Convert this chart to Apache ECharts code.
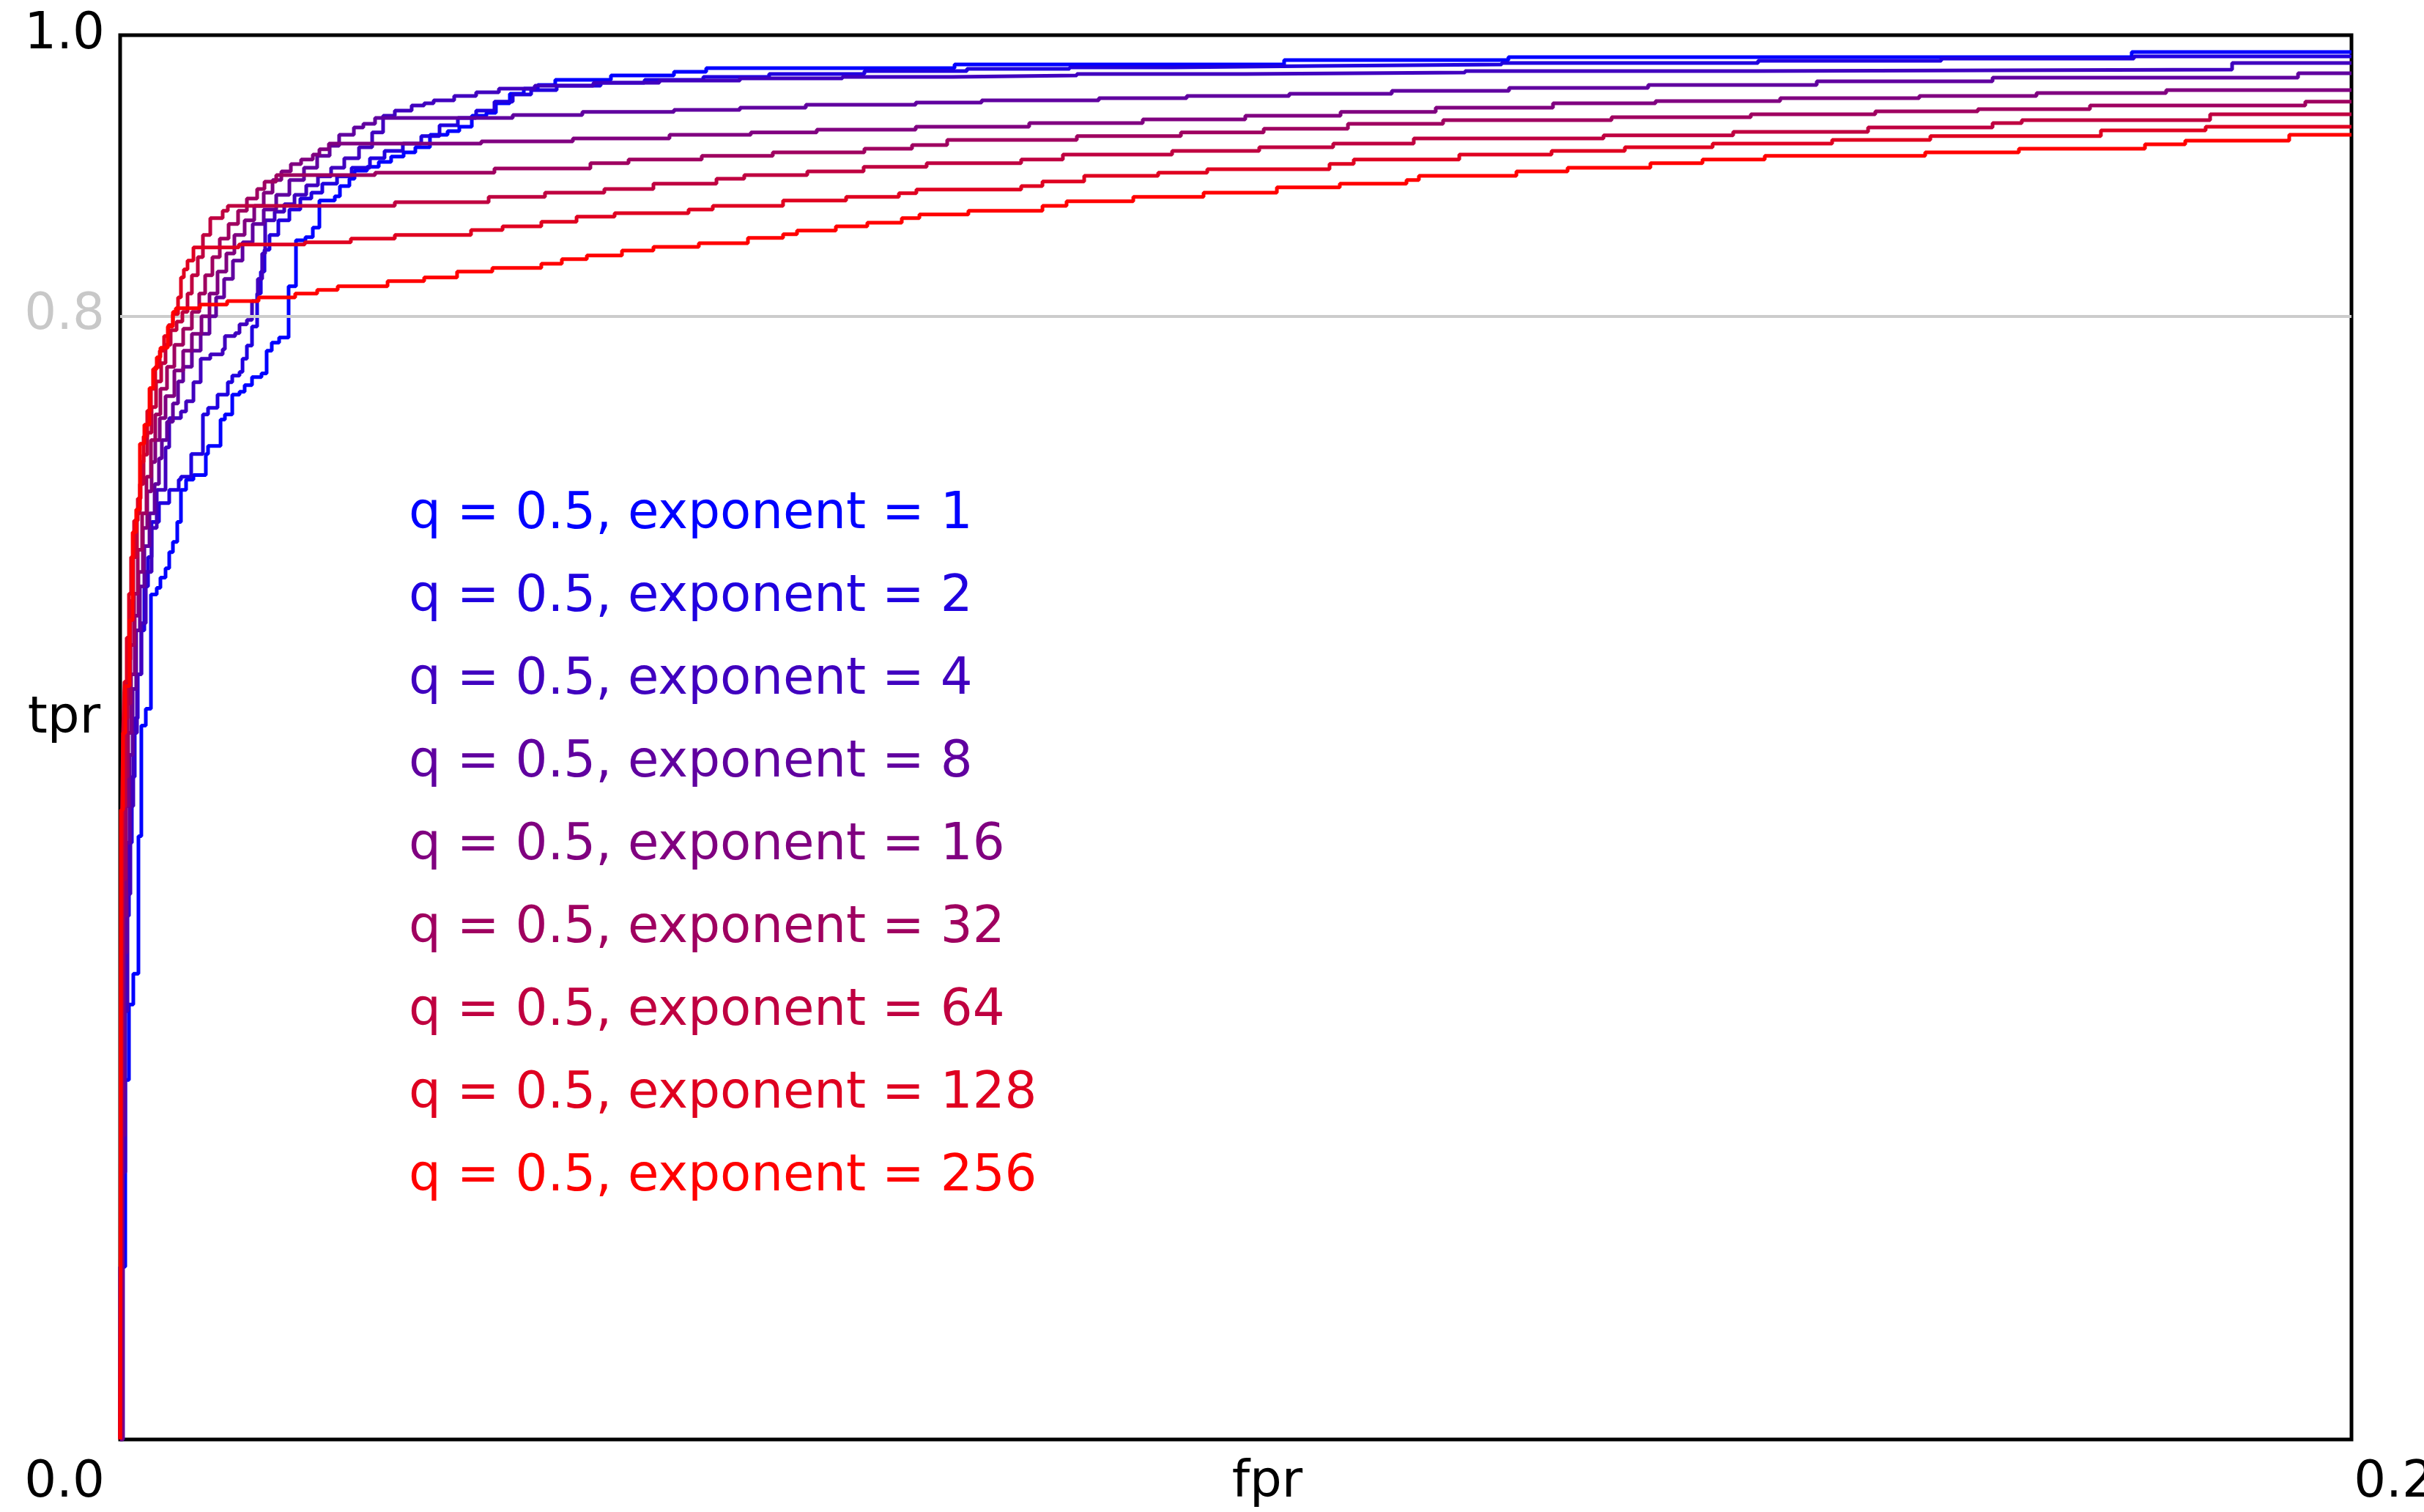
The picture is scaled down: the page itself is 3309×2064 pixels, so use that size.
<!DOCTYPE html>
<html>
<head>
<meta charset="utf-8">
<script src="https://cdn.jsdelivr.net/npm/echarts@6/dist/echarts.min.js"></script>
<style>
html,body{margin:0;padding:0;background:#fff;}
#chart{width:3309px;height:2064px;}
</style>
</head>
<body>
<div id="chart"></div>
<script>
// ROC curves, points are [fpr, tpr] at the top of each vertical step
const exponents = [1, 2, 4, 8, 16, 32, 64, 128, 256];
const qValue = '0.5';
const xTickLabels = ['0.0', '0.2'];
const yTickLabels = ['1.0', '0.8'];
const xAxisName = 'fpr';
const yAxisName = 'tpr';
const lineColors = ['#0000ff', '#2000df', '#4000bf', '#60009f', '#800080', '#9f0060', '#bf0040', '#df0020', '#ff0000'];

const curveExp1 = [[0,0],[0,0.1230],[0.00046,0.2560],[0.00079,0.3097],[0.00118,0.3316],[0.00164,0.4296],[0.00190,0.5083],[0.00230,0.5203],[0.00276,0.6017],[0.00328,0.6064],[0.00361,0.6137],[0.00407,0.6204],[0.00440,0.6319],[0.00473,0.6392],[0.00512,0.6533],[0.00545,0.6762],[0.00591,0.6835],[0.00657,0.6867],[0.00768,0.7018],[0.00788,0.7075],[0.00900,0.7263],[0.00939,0.7299],[0.01005,0.7440],[0.01070,0.7461],[0.01116,0.7508],[0.01182,0.7565],[0.01267,0.7591],[0.01313,0.7753],[0.01359,0.7810],[0.01425,0.7847],[0.01510,0.8212],[0.01576,0.8540],[0.01661,0.8561],[0.01727,0.8629],[0.01786,0.8822],[0.01924,0.8853],[0.01970,0.8926],[0.02055,0.8978],[0.02101,0.9035],[0.02213,0.9062],[0.02318,0.9098],[0.02429,0.9135],[0.02541,0.9166],[0.02646,0.9202],[0.02777,0.9291],[0.02935,0.9317],[0.03040,0.9348],[0.03152,0.9426],[0.03283,0.9447],[0.03368,0.9515],[0.03493,0.9583],[0.03618,0.9619],[0.03743,0.9645],[0.03900,0.9682],[0.04399,0.9713],[0.04964,0.9739],[0.05253,0.9765],[0.07479,0.9791],[0.10433,0.9823],[0.12443,0.9844],[0.18030,0.9880],[0.2,0.9880]];

const curveExp2 = [[0,0],[0.00013,0.1382],[0.00026,0.2424],[0.00039,0.3102],[0.00059,0.3728],[0.00079,0.4249],[0.00105,0.4718],[0.00131,0.5136],[0.00158,0.5448],[0.00190,0.5761],[0.00217,0.6074],[0.00250,0.6283],[0.00282,0.6533],[0.00348,0.6668],[0.00440,0.6762],[0.00525,0.6835],[0.00545,0.6856],[0.00637,0.7018],[0.00742,0.7299],[0.00788,0.7346],[0.00873,0.7440],[0.00965,0.7529],[0.01005,0.7576],[0.01070,0.7602],[0.01097,0.7696],[0.01136,0.7789],[0.01182,0.7925],[0.01228,0.8160],[0.01261,0.8316],[0.01294,0.8472],[0.01339,0.8577],[0.01418,0.8681],[0.01517,0.8759],[0.01615,0.8837],[0.01714,0.8879],[0.01812,0.8942],[0.01944,0.8994],[0.02075,0.9056],[0.02239,0.9124],[0.02370,0.9176],[0.02534,0.9228],[0.02699,0.9281],[0.02863,0.9359],[0.03027,0.9411],[0.03191,0.9463],[0.03355,0.9526],[0.03519,0.9578],[0.03684,0.9609],[0.03913,0.9640],[0.04307,0.9661],[0.04701,0.9682],[0.05227,0.9703],[0.05817,0.9724],[0.06671,0.9745],[0.07590,0.9760],[0.08510,0.9771],[0.09429,0.9781],[0.10742,0.9791],[0.12383,0.9802],[0.14681,0.9818],[0.16323,0.9833],[0.18050,0.9849],[0.2,0.9849]];

const curveExp4 = [[0,0],[0.00026,0.1903],[0.00046,0.3050],[0.00066,0.3884],[0.00092,0.4510],[0.00118,0.5031],[0.00151,0.5448],[0.00190,0.5813],[0.00230,0.6178],[0.00282,0.6491],[0.00328,0.6762],[0.00407,0.7065],[0.00440,0.7273],[0.00545,0.7320],[0.00591,0.7393],[0.00657,0.7529],[0.00722,0.7696],[0.00808,0.7727],[0.00919,0.7763],[0.00939,0.7857],[0.01031,0.7878],[0.01070,0.7941],[0.01136,0.7972],[0.01182,0.8107],[0.01234,0.8264],[0.01273,0.8446],[0.01300,0.8681],[0.01385,0.8743],[0.01471,0.8796],[0.01563,0.8863],[0.01668,0.8931],[0.01773,0.8994],[0.01891,0.9056],[0.02009,0.9124],[0.02141,0.9202],[0.02259,0.9307],[0.02357,0.9426],[0.02462,0.9463],[0.02613,0.9499],[0.02725,0.9515],[0.02810,0.9536],[0.02994,0.9567],[0.03191,0.9593],[0.03395,0.9619],[0.03716,0.9640],[0.04242,0.9661],[0.04833,0.9677],[0.05555,0.9692],[0.06474,0.9703],[0.07459,0.9713],[0.08575,0.9724],[0.10085,0.9734],[0.12055,0.9745],[0.14681,0.9755],[0.18930,0.9802],[0.2,0.9802]];

const curveExp8 = [[0,0],[0.00020,0.2164],[0.00039,0.3467],[0.00059,0.4249],[0.00085,0.4875],[0.00112,0.5344],[0.00144,0.5761],[0.00177,0.6074],[0.00217,0.6361],[0.00263,0.6595],[0.00309,0.6804],[0.00348,0.6986],[0.00374,0.7117],[0.00420,0.7247],[0.00473,0.7377],[0.00519,0.7534],[0.00565,0.7638],[0.00643,0.7753],[0.00722,0.7873],[0.00801,0.7998],[0.00860,0.8133],[0.00932,0.8264],[0.01011,0.8394],[0.01097,0.8525],[0.01188,0.8655],[0.01287,0.8759],[0.01399,0.8863],[0.01517,0.8968],[0.01648,0.9056],[0.01766,0.9140],[0.01878,0.9212],[0.01963,0.9291],[0.02095,0.9343],[0.02180,0.9369],[0.02285,0.9411],[0.03519,0.9432],[0.04143,0.9453],[0.04964,0.9468],[0.05555,0.9484],[0.06146,0.9505],[0.07131,0.9520],[0.07722,0.9536],[0.08772,0.9552],[0.09560,0.9567],[0.10479,0.9583],[0.11398,0.9604],[0.12449,0.9625],[0.13696,0.9645],[0.15207,0.9671],[0.16783,0.9698],[0.19521,0.9729],[0.2,0.9729]];

const curveExp16 = [[0,0],[0.00020,0.2424],[0.00033,0.3728],[0.00053,0.4510],[0.00072,0.5031],[0.00098,0.5448],[0.00131,0.5866],[0.00164,0.6178],[0.00204,0.6491],[0.00243,0.6752],[0.00282,0.6960],[0.00315,0.7117],[0.00355,0.7273],[0.00407,0.7430],[0.00486,0.7612],[0.00565,0.7753],[0.00643,0.7873],[0.00729,0.7998],[0.00801,0.8160],[0.00873,0.8316],[0.00952,0.8446],[0.01024,0.8577],[0.01116,0.8681],[0.01202,0.8785],[0.01287,0.8879],[0.01366,0.8968],[0.01445,0.9030],[0.01530,0.9082],[0.01622,0.9114],[0.01727,0.9150],[0.01786,0.9187],[0.01871,0.9228],[0.03237,0.9244],[0.04058,0.9265],[0.04924,0.9291],[0.05653,0.9307],[0.06244,0.9327],[0.07131,0.9348],[0.08148,0.9374],[0.09166,0.9400],[0.10085,0.9426],[0.10939,0.9453],[0.11792,0.9484],[0.12843,0.9515],[0.13762,0.9531],[0.14879,0.9552],[0.16126,0.9567],[0.17177,0.9588],[0.18339,0.9609],[0.2,0.9609]];

const curveExp32 = [[0,0],[0.00013,0.2685],[0.00026,0.3989],[0.00046,0.4718],[0.00066,0.5240],[0.00092,0.5657],[0.00125,0.6022],[0.00158,0.6335],[0.00197,0.6595],[0.00236,0.6856],[0.00276,0.7117],[0.00315,0.7299],[0.00361,0.7482],[0.00420,0.7638],[0.00486,0.7795],[0.00565,0.7909],[0.00643,0.8029],[0.00709,0.8160],[0.00762,0.8290],[0.00827,0.8420],[0.00893,0.8551],[0.00972,0.8655],[0.01057,0.8749],[0.01136,0.8837],[0.01228,0.8905],[0.01294,0.8957],[0.01399,0.9004],[0.02285,0.9020],[0.03355,0.9051],[0.04215,0.9088],[0.04557,0.9114],[0.05213,0.9140],[0.05850,0.9166],[0.06671,0.9192],[0.07098,0.9218],[0.07413,0.9254],[0.08575,0.9281],[0.09508,0.9307],[0.10250,0.9333],[0.11005,0.9369],[0.11858,0.9395],[0.13368,0.9416],[0.14616,0.9437],[0.15732,0.9458],[0.16651,0.9473],[0.17656,0.9499],[0.19586,0.9526],[0.2,0.9526]];

const curveExp64 = [[0,0],[0.00013,0.3467],[0.00026,0.4510],[0.00046,0.5136],[0.00066,0.5553],[0.00092,0.5970],[0.00118,0.6283],[0.00151,0.6595],[0.00177,0.6804],[0.00210,0.7012],[0.00243,0.7169],[0.00282,0.7351],[0.00322,0.7534],[0.00368,0.7664],[0.00407,0.7795],[0.00453,0.7899],[0.00506,0.7961],[0.00558,0.8029],[0.00604,0.8160],[0.00643,0.8290],[0.00696,0.8420],[0.00742,0.8577],[0.00808,0.8697],[0.00919,0.8749],[0.00965,0.8785],[0.02462,0.8811],[0.03303,0.8848],[0.03808,0.8879],[0.04340,0.8905],[0.04780,0.8942],[0.05345,0.8978],[0.05594,0.9004],[0.06159,0.9030],[0.06664,0.9062],[0.07229,0.9088],[0.08076,0.9114],[0.08450,0.9150],[0.09429,0.9176],[0.10210,0.9202],[0.10873,0.9228],[0.11595,0.9265],[0.13296,0.9286],[0.14458,0.9312],[0.15667,0.9343],[0.16783,0.9374],[0.17045,0.9395],[0.18733,0.9437],[0.2,0.9437]];

const curveExp128 = [[0,0],[0.00007,0.2946],[0.00013,0.4249],[0.00026,0.5031],[0.00039,0.5396],[0.00059,0.5709],[0.00079,0.6022],[0.00098,0.6283],[0.00125,0.6543],[0.00158,0.6700],[0.00184,0.6960],[0.00210,0.7143],[0.00243,0.7325],[0.00276,0.7482],[0.00315,0.7638],[0.00355,0.7753],[0.00394,0.7857],[0.00433,0.7935],[0.00473,0.8014],[0.00519,0.8133],[0.00545,0.8274],[0.00571,0.8332],[0.00604,0.8394],[0.00657,0.8488],[0.01064,0.8509],[0.01655,0.8525],[0.02068,0.8551],[0.02462,0.8577],[0.03145,0.8613],[0.03428,0.8639],[0.03775,0.8671],[0.04091,0.8707],[0.04432,0.8733],[0.05095,0.8759],[0.05312,0.8785],[0.05942,0.8822],[0.06507,0.8848],[0.06980,0.8874],[0.07137,0.8900],[0.08076,0.8926],[0.08267,0.8958],[0.08641,0.8999],[0.09304,0.9020],[0.09744,0.9046],[0.10840,0.9083],[0.11057,0.9114],[0.12003,0.9150],[0.12830,0.9176],[0.13487,0.9202],[0.14274,0.9228],[0.15345,0.9254],[0.16225,0.9281],[0.17754,0.9322],[0.18693,0.9348],[0.2,0.9348]];

const curveExp256 = [[0,0],[0.00007,0.4484],[0.00026,0.5031],[0.00046,0.5365],[0.00085,0.5834],[0.00112,0.6460],[0.00144,0.6622],[0.00177,0.7091],[0.00217,0.7226],[0.00263,0.7487],[0.00295,0.7622],[0.00328,0.7706],[0.00361,0.7774],[0.00427,0.7925],[0.00473,0.8029],[0.00499,0.8055],[0.00716,0.8081],[0.00959,0.8107],[0.01241,0.8133],[0.01569,0.8160],[0.01766,0.8186],[0.01950,0.8212],[0.02397,0.8248],[0.02725,0.8274],[0.03020,0.8316],[0.03336,0.8342],[0.03775,0.8373],[0.03959,0.8405],[0.04183,0.8431],[0.04498,0.8467],[0.04780,0.8493],[0.05187,0.8519],[0.05627,0.8556],[0.05942,0.8582],[0.06067,0.8608],[0.06415,0.8639],[0.06697,0.8665],[0.07006,0.8697],[0.07164,0.8723],[0.07603,0.8749],[0.08267,0.8785],[0.08483,0.8817],[0.09081,0.8848],[0.09711,0.8879],[0.10368,0.8916],[0.10932,0.8942],[0.11530,0.8968],[0.11641,0.8999],[0.12515,0.9030],[0.12974,0.9056],[0.13716,0.9088],[0.14183,0.9114],[0.14741,0.9140],[0.16179,0.9166],[0.17019,0.9192],[0.18149,0.9223],[0.18510,0.9249],[0.19442,0.9291],[0.2,0.9291]];

const curves = [curveExp1, curveExp2, curveExp4, curveExp8, curveExp16, curveExp32, curveExp64, curveExp128, curveExp256];
const refLineTpr = 0.8;

const FONT = 'DejaVu Sans';
const FS = 69;
const names = exponents.map(e => 'q = ' + qValue + ', exponent = ' + e);

const series = [{
  type: 'line', name: '_ref', data: [], silent: true, z: 1,
  markLine: {
    silent: true, symbol: 'none', animation: false,
    label: { show: false },
    lineStyle: { color: '#cccccc', width: 4, type: 'solid' },
    data: [{ yAxis: refLineTpr }]
  }
}];
curves.forEach((c, i) => {
  series.push({
    type: 'line', name: names[i], data: c, step: 'end',
    symbol: 'none', showSymbol: false, animation: false, z: 2 + i,
    lineStyle: { width: 5, color: lineColors[i] },
    itemStyle: { color: lineColors[i] }
  });
});

const chart = echarts.init(document.getElementById('chart'), null, { renderer: 'canvas' });
chart.setOption({
  animation: false,
  backgroundColor: '#ffffff',
  grid: { left: 164, top: 48, width: 3046, height: 1917, containLabel: false, outerBoundsMode: 'none',
          show: true, borderColor: '#000', borderWidth: 5, backgroundColor: 'transparent' },
  legend: {
    orient: 'vertical', left: 548, top: 658, icon: 'none', itemWidth: 0, itemHeight: 80, itemGap: 33,
    selectedMode: false,
    textStyle: { fontFamily: FONT, fontSize: FS, lineHeight: 80 },
    data: names.map((n, i) => ({ name: n, textStyle: { color: lineColors[i] } }))
  },
  xAxis: {
    type: 'value', min: 0, max: 0.2, interval: 0.2,
    name: xAxisName, nameLocation: 'middle', nameGap: 26, nameMoveOverlap: false,
    nameTextStyle: { fontFamily: FONT, fontSize: FS, color: '#000', lineHeight: 69, padding: [0, 0, 0, 86] },
    axisLine: { show: false }, axisTick: { show: false }, splitLine: { show: false },
    axisLabel: {
      margin: 26, fontFamily: FONT, fontSize: FS, color: '#000', lineHeight: 69,
      formatter: v => (v < 0.1 ? '{a|' + xTickLabels[0] + '}' : '{b|' + xTickLabels[1] + '}'),
      rich: {
        a: { fontFamily: FONT, fontSize: FS, color: '#000', padding: [0, 152, 0, 0] },
        b: { fontFamily: FONT, fontSize: FS, color: '#000', padding: [0, 0, 0, 116] }
      }
    }
  },
  yAxis: {
    type: 'value', min: 0, max: 1, interval: 0.2,
    name: yAxisName, nameLocation: 'middle', nameGap: 27, nameRotate: 0, nameMoveOverlap: false,
    nameTextStyle: { fontFamily: FONT, fontSize: FS, color: '#000', align: 'right', verticalAlign: 'bottom', lineHeight: 48 },
    axisLine: { show: false }, axisTick: { show: false }, splitLine: { show: false },
    axisLabel: {
      margin: 21, fontFamily: FONT, fontSize: FS,
      formatter: v => (Math.abs(v - 1) < 1e-6 ? yTickLabels[0] : (Math.abs(v - 0.8) < 1e-6 ? yTickLabels[1] : '')),
      color: v => (Math.abs(v - 0.8) < 1e-6 ? '#c8c8c8' : '#000000')
    }
  },
  series: series
});
</script>
</body>
</html>
